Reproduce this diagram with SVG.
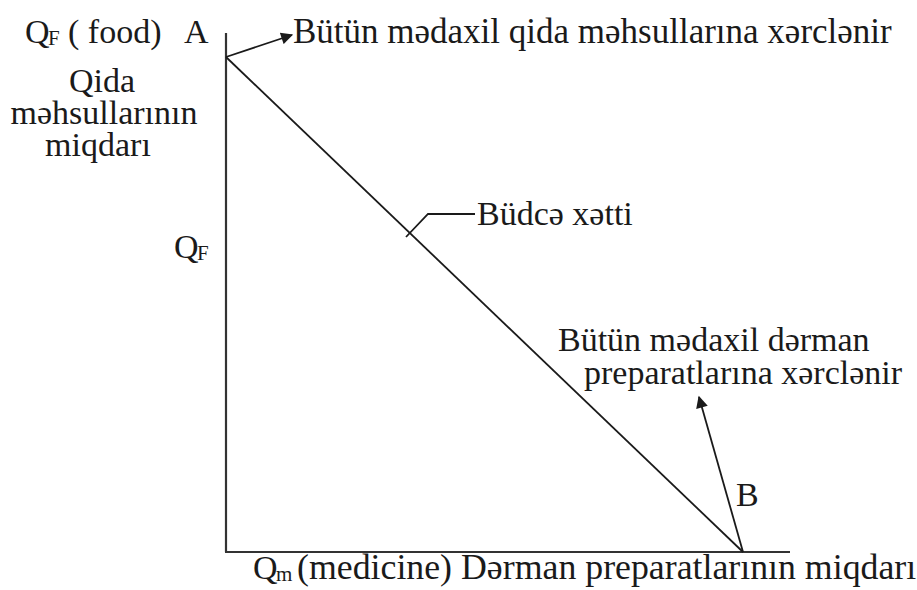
<svg xmlns="http://www.w3.org/2000/svg" width="917" height="590" viewBox="0 0 917 590">
<defs>
<style>
text{font-family:"Liberation Serif","Times New Roman",serif;font-size:34px;fill:#1a1a1a}
.sub{font-size:21px}
.big{font-size:35px}
.bot{font-size:35.8px}
.ln{stroke:#1a1a1a;fill:none;stroke-width:1.8}
.ax{stroke:#333;fill:none;stroke-width:2.2}
</style>
<marker id="ah" viewBox="0 0 10 10" refX="9" refY="5" markerWidth="16" markerHeight="12" markerUnits="userSpaceOnUse" orient="auto">
<path d="M0,0 L10,5 L0,10 Z" fill="#1a1a1a"/>
</marker>
</defs>
<rect width="917" height="590" fill="#fff"/>
<g id="axes">
<line class="ax" x1="226" y1="33" x2="226" y2="552"/>
<line class="ax" x1="225" y1="552" x2="790" y2="552"/>
</g>
<g id="connectors">
<line class="ln" x1="226" y1="57" x2="743" y2="552"/>
<line class="ln" x1="226" y1="57" x2="292" y2="35" marker-end="url(#ah)"/>
<line class="ln" x1="743" y1="552" x2="699" y2="397" marker-end="url(#ah)"/>
<polyline class="ln" points="406,237 428,214 475,214"/>
</g>
<g id="labelA">
<text x="25" y="43">Q<tspan class="sub" x="48" y="45">F</tspan><tspan x="68" y="43">( food)</tspan><tspan x="184" y="43">A</tspan></text>
</g>
<g id="labelAnote">
<text class="big" x="293" y="43">Bütün mədaxil qida məhsullarına xərclənir</text>
</g>
<g id="yaxisLabel">
<text x="102" y="92" text-anchor="middle">Qida</text>
<text x="104" y="124" text-anchor="middle">məhsullarının</text>
<text x="98" y="156" text-anchor="middle">miqdarı</text>
</g>
<g id="labelQF">
<text x="174" y="258">Q<tspan class="sub" x="197" y="260">F</tspan></text>
</g>
<g id="budgetLine">
<text x="477" y="225">Büdcə xətti</text>
</g>
<g id="labelBnote">
<text x="558" y="351">Bütün mədaxil dərman</text>
<text x="584" y="384">preparatlarına xərclənir</text>
</g>
<g id="labelB">
<text x="736" y="506">B</text>
</g>
<g id="xaxisLabel">
<text x="253" y="579">Q<tspan class="sub" x="276" y="581">m</tspan><tspan class="bot" x="297" y="579">(medicine) Dərman preparatlarının miqdarı</tspan></text>
</g>
</svg>
